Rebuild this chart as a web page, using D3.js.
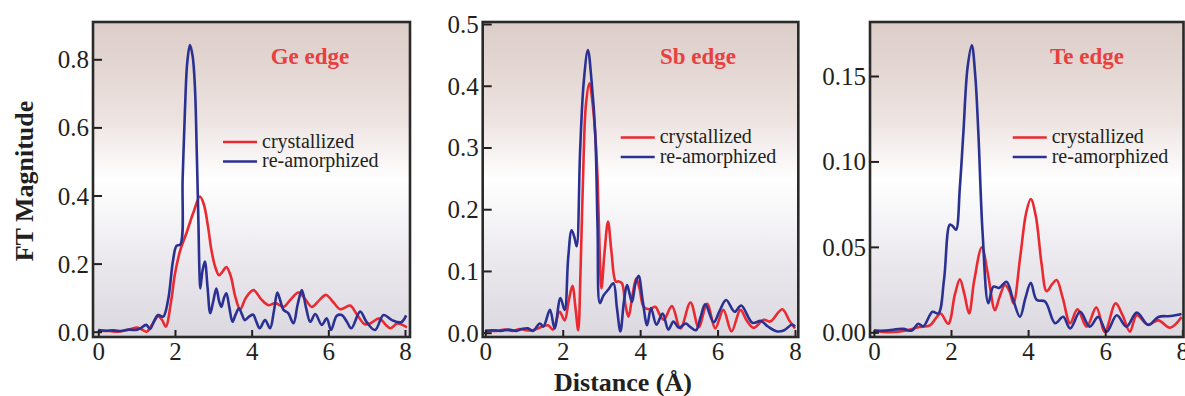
<!DOCTYPE html>
<html>
<head>
<meta charset="utf-8">
<script src="https://cdn.jsdelivr.net/npm/d3@7"></script>
<style>
  body { margin: 0; background: #fff; }
  svg text { font-family: "Liberation Serif", "Times New Roman", serif; fill: #231f20; }
</style>
</head>
<body>
<div id="chart"></div>
<script>
// x ticks shared by all panels (Distance, Å)
const xTicks = [0, 2, 4, 6, 8];

// Ge edge
const geTicks = [0, 0.2, 0.4, 0.6, 0.8];
const geCrystallized = [[0,0.003],[0.3,0.002],[0.5,0.0],[0.7,0.004],[0.85,0.008],[1.0,0.012],[1.12,0.008],[1.26,0.0],[1.4,0.02],[1.56,0.045],[1.66,0.035],[1.76,0.015],[1.9,0.09],[2.0,0.17],[2.14,0.24],[2.3,0.29],[2.48,0.35],[2.65,0.397],[2.75,0.375],[2.86,0.31],[2.95,0.24],[3.05,0.19],[3.15,0.166],[3.25,0.178],[3.34,0.19],[3.45,0.165],[3.58,0.1],[3.7,0.066],[3.85,0.1],[4.05,0.122],[4.25,0.095],[4.44,0.078],[4.62,0.084],[4.83,0.073],[5.02,0.095],[5.22,0.115],[5.4,0.095],[5.57,0.073],[5.76,0.092],[5.94,0.108],[6.12,0.088],[6.31,0.066],[6.45,0.072],[6.57,0.077],[6.75,0.05],[6.95,0.022],[7.1,0.025],[7.33,0.039],[7.5,0.02],[7.62,0.01],[7.8,0.024],[8.05,0.013]];
const geAmorphized = [[0,0.005],[0.2,0.003],[0.4,0.004],[0.6,0.002],[0.8,0.006],[0.99,0.005],[1.1,0.01],[1.25,0.02],[1.35,0.008],[1.45,0.03],[1.56,0.049],[1.69,0.044],[1.82,0.093],[1.95,0.21],[2.04,0.252],[2.14,0.256],[2.2,0.45],[2.26,0.65],[2.32,0.79],[2.39,0.842],[2.46,0.81],[2.52,0.72],[2.57,0.52],[2.61,0.33],[2.64,0.17],[2.66,0.127],[2.72,0.18],[2.78,0.206],[2.85,0.13],[2.92,0.054],[3.0,0.09],[3.08,0.127],[3.15,0.09],[3.21,0.073],[3.28,0.1],[3.34,0.113],[3.42,0.07],[3.5,0.029],[3.58,0.05],[3.67,0.069],[3.75,0.05],[3.82,0.034],[3.94,0.045],[4.04,0.05],[4.12,0.03],[4.21,0.01],[4.35,0.034],[4.48,0.01],[4.58,0.06],[4.67,0.115],[4.75,0.09],[4.83,0.064],[4.95,0.055],[5.09,0.025],[5.2,0.08],[5.31,0.122],[5.42,0.07],[5.53,0.029],[5.66,0.052],[5.83,0.02],[5.96,0.039],[6.07,0.005],[6.22,0.047],[6.35,0.049],[6.48,0.03],[6.6,0.01],[6.83,0.059],[7.0,0.028],[7.22,0.005],[7.44,0.049],[7.66,0.034],[7.9,0.028],[8.03,0.048]];

// Sb edge
const sbTicks = [0, 0.1, 0.2, 0.3, 0.4, 0.5];
const sbCrystallized = [[0,0.003],[0.3,0.003],[0.5,0.005],[0.7,0.003],[0.9,0.006],[1.05,0.004],[1.23,0.004],[1.4,0.008],[1.62,0.012],[1.75,0.005],[1.92,0.034],[2.05,0.02],[2.15,0.05],[2.25,0.076],[2.33,0.04],[2.4,0.004],[2.46,0.1],[2.52,0.24],[2.6,0.37],[2.69,0.404],[2.79,0.36],[2.86,0.3],[2.9,0.25],[2.95,0.14],[3.0,0.072],[3.08,0.13],[3.17,0.18],[3.26,0.13],[3.37,0.083],[3.45,0.083],[3.53,0.08],[3.62,0.045],[3.7,0.026],[3.8,0.06],[3.9,0.088],[3.99,0.07],[4.09,0.042],[4.25,0.038],[4.39,0.042],[4.5,0.03],[4.61,0.021],[4.82,0.043],[5.04,0.007],[5.3,0.049],[5.51,0.009],[5.73,0.047],[5.94,0.007],[6.15,0.037],[6.36,0.002],[6.59,0.037],[6.75,0.02],[6.93,0.008],[7.19,0.021],[7.36,0.018],[7.67,0.038],[7.85,0.02],[8.0,0.007]];
const sbAmorphized = [[0,0.003],[0.2,0.004],[0.4,0.003],[0.6,0.005],[0.8,0.003],[0.95,0.006],[1.1,0.007],[1.23,0.003],[1.41,0.015],[1.5,0.01],[1.67,0.037],[1.79,0.007],[1.94,0.056],[2.05,0.037],[2.14,0.12],[2.23,0.166],[2.3,0.155],[2.36,0.14],[2.45,0.296],[2.54,0.404],[2.65,0.458],[2.75,0.404],[2.84,0.323],[2.9,0.17],[2.96,0.048],[3.05,0.06],[3.18,0.07],[3.31,0.08],[3.4,0.04],[3.49,0.002],[3.58,0.05],[3.66,0.077],[3.72,0.065],[3.79,0.05],[3.88,0.08],[3.96,0.092],[4.07,0.05],[4.18,0.012],[4.28,0.04],[4.42,0.013],[4.58,0.031],[4.73,0.005],[4.86,0.018],[5.0,0.008],[5.18,0.015],[5.28,0.01],[5.44,0.004],[5.56,0.025],[5.68,0.046],[5.9,0.017],[6.05,0.035],[6.22,0.053],[6.44,0.034],[6.61,0.044],[6.9,0.016],[7.12,0.019],[7.3,0.01],[7.54,0.002],[7.72,0.004],[7.92,0.013],[8.0,0.01]];

// Te edge
const teTicks = [0, 0.05, 0.10, 0.15];
const teCrystallized = [[0,0.001],[0.42,0.0],[0.85,0.001],[1.15,0.003],[1.45,0.004],[1.6,0.008],[1.73,0.011],[1.93,0.005],[2.1,0.022],[2.23,0.031],[2.35,0.022],[2.47,0.011],[2.6,0.03],[2.8,0.0498],[2.95,0.035],[3.14,0.013],[3.25,0.02],[3.4,0.0277],[3.52,0.024],[3.62,0.017],[3.8,0.045],[3.95,0.07],[4.07,0.078],[4.2,0.068],[4.35,0.04],[4.48,0.024],[4.62,0.028],[4.74,0.0306],[4.9,0.02],[5.09,0.0053],[5.28,0.0135],[5.52,0.0033],[5.77,0.0146],[5.99,0.0003],[6.27,0.017],[6.45,0.01],[6.64,0.0004],[6.82,0.01],[7.1,0.0045],[7.38,0.007],[7.68,0.0027],[7.98,0.009]];
const teAmorphized = [[0,0.001],[0.3,0.001],[0.76,0.002],[0.98,0.001],[1.15,0.005],[1.28,0.0035],[1.52,0.012],[1.67,0.011],[1.82,0.031],[1.97,0.063],[2.05,0.062],[2.13,0.06],[2.23,0.085],[2.32,0.1165],[2.43,0.155],[2.54,0.168],[2.63,0.15],[2.71,0.1165],[2.82,0.058],[2.97,0.017],[3.1,0.0267],[3.25,0.026],[3.44,0.0296],[3.6,0.02],[3.79,0.0091],[3.93,0.02],[4.07,0.029],[4.22,0.019],[4.44,0.018],[4.7,0.0053],[4.91,0.0091],[5.09,0.0023],[5.35,0.012],[5.6,0.0033],[5.82,0.009],[6.04,0.0004],[6.3,0.01],[6.55,0.0033],[6.82,0.0115],[7.12,0.0043],[7.38,0.009],[7.7,0.0095],[7.98,0.0107]];

const seriesNames = ['crystallized', 're-amorphized'];
const colors = ['#ea2a30', '#2b3192'];

// layout of the three frames (pixel positions, not data)
const panels = [
  { title: 'Ge edge', data: [geCrystallized, geAmorphized], ticks: geTicks, fmt: '.1f', yMax: 0.8,
    left: 93, right: 410, x0: 98.3, x8: 405, y0: 331.7, yTop: 59.3, titleX: 310, legX: 223, legY: 142 },
  { title: 'Sb edge', data: [sbCrystallized, sbAmorphized], ticks: sbTicks, fmt: '.1f', yMax: 0.5,
    left: 482.7, right: 798.3, x0: 485.3, x8: 795, y0: 332.7, yTop: 24, titleX: 698, legX: 620.7, legY: 137.5 },
  { title: 'Te edge', data: [teCrystallized, teAmorphized], ticks: teTicks, fmt: '.2f', yMax: 0.15,
    left: 870, right: 1183.5, x0: 873.9, x8: 1182.3, y0: 332.3, yTop: 76, titleX: 1087, legX: 1012.7, legY: 137.5 }
];
const frameTop = 22, frameBottom = 337;

const svg = d3.select('#chart').append('svg')
  .attr('width', 1185).attr('height', 396);

const grad = svg.append('defs').append('linearGradient')
  .attr('id', 'bg').attr('x1', 0).attr('y1', 0).attr('x2', 0).attr('y2', 1);
grad.append('stop').attr('offset', '0%').attr('stop-color', '#dccdc8');
grad.append('stop').attr('offset', '30%').attr('stop-color', '#ece2df');
grad.append('stop').attr('offset', '50%').attr('stop-color', '#ffffff');
grad.append('stop').attr('offset', '75%').attr('stop-color', '#ebe9ee');
grad.append('stop').attr('offset', '100%').attr('stop-color', '#dbd8e0');

panels.forEach((p) => {
  const x = d3.scaleLinear().domain([0, 8]).range([p.x0, p.x8]);
  const y = d3.scaleLinear().domain([0, p.yMax]).range([p.y0, p.yTop]);
  const g = svg.append('g');

  g.append('rect')
    .attr('x', p.left).attr('y', frameTop)
    .attr('width', p.right - p.left).attr('height', frameBottom - frameTop)
    .attr('fill', 'url(#bg)');

  const line = d3.line()
    .x((d) => x(d[0]))
    .y((d) => y(d[1]))
    .curve(d3.curveCatmullRom.alpha(0.5));

  p.data.forEach((series, i) => {
    g.append('path')
      .datum(series)
      .attr('d', line)
      .attr('fill', 'none')
      .attr('stroke', colors[i])
      .attr('stroke-width', 2.6)
      .attr('stroke-linejoin', 'round');
  });

  const yAxis = g.append('g')
    .attr('transform', `translate(${p.left},0)`)
    .call(d3.axisLeft(y).tickValues(p.ticks).tickFormat(d3.format(p.fmt)).tickSize(-9).tickPadding(4));
  yAxis.select('.domain').remove();
  yAxis.selectAll('.tick line').attr('stroke', '#231f20').attr('stroke-width', 2);
  yAxis.selectAll('.tick text').attr('font-size', 25).attr('dy', '0.34em');

  const xAxis = g.append('g')
    .attr('transform', `translate(0,${frameBottom})`)
    .call(d3.axisBottom(x).tickValues(xTicks).tickSize(-7).tickPadding(5));
  xAxis.select('.domain').remove();
  xAxis.selectAll('.tick line').attr('stroke', '#231f20').attr('stroke-width', 2);
  xAxis.selectAll('.tick text').attr('font-size', 25);

  g.append('rect')
    .attr('x', p.left).attr('y', frameTop)
    .attr('width', p.right - p.left).attr('height', frameBottom - frameTop)
    .attr('fill', 'none').attr('stroke', '#2a2a2a').attr('stroke-width', 2.6);

  g.append('text')
    .attr('x', p.titleX).attr('y', 64)
    .attr('text-anchor', 'middle')
    .attr('font-size', 23).attr('font-weight', 'bold')
    .style('fill', '#e8403f')
    .text(p.title);

  seriesNames.forEach((name, i) => {
    const ly = p.legY + i * 19.5;
    g.append('line')
      .attr('x1', p.legX).attr('x2', p.legX + 34)
      .attr('y1', ly).attr('y2', ly)
      .attr('stroke', colors[i]).attr('stroke-width', 2.6);
    g.append('text')
      .attr('x', p.legX + 39).attr('y', ly + 5.5)
      .attr('font-size', 20)
      .text(name);
  });
});

svg.append('text')
  .attr('transform', 'translate(33,181) rotate(-90)')
  .attr('text-anchor', 'middle')
  .attr('font-size', 26).attr('font-weight', 'bold')
  .text('FT Magnitude');

svg.append('text')
  .attr('x', 623).attr('y', 391)
  .attr('text-anchor', 'middle')
  .attr('font-size', 26).attr('font-weight', 'bold')
  .text('Distance (Å)');
</script>
</body>
</html>
